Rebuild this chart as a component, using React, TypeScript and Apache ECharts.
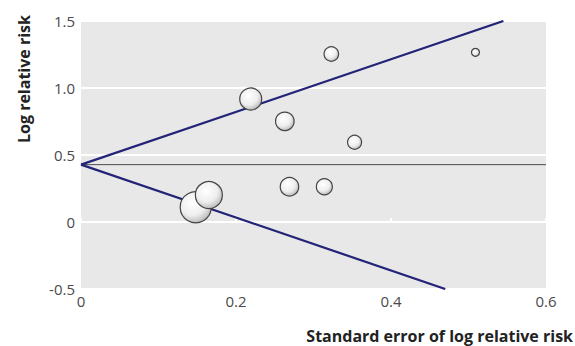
import React, { useEffect, useRef } from "react";
import * as echarts from "echarts";

// Study data: standard error, log relative risk, relative weight (bubble diameter)
const standardErrors = [0.148, 0.165, 0.219, 0.263, 0.323, 0.353, 0.509, 0.269, 0.314];
const logRelativeRisks = [0.11, 0.201, 0.918, 0.751, 1.254, 0.595, 1.266, 0.263, 0.263];
const studyWeights = [31, 27, 22, 18.5, 14.5, 14, 8, 18.5, 16];

// Pooled estimate and pseudo 95% confidence limits (funnel)
const pooledEstimate = 0.428;
const upperLimit = [[0, 0.428], [0.545, 1.5]];
const lowerLimit = [[0, 0.428], [0.47, -0.5]];
const pooledLine = [[0, pooledEstimate], [0.6, pooledEstimate]];

const xTicks = [0, 0.2, 0.4, 0.6];
const yTicks = [-0.5, 0, 0.5, 1.0, 1.5];

const FONT = "'Open Sans', 'Noto Sans', sans-serif";

export default function App() {
  const ref = useRef<HTMLDivElement>(null);
  useEffect(() => {
    if (!ref.current) return;
    const chart = echarts.init(ref.current, undefined, { renderer: "svg" });
    const points = standardErrors.map((se, i) => ({
      value: [se, logRelativeRisks[i]],
      symbolSize: studyWeights[i],
    }));
    const fmt = (v: number) => (v === 0 ? "0" : v.toFixed(1));
    chart.setOption({
      animation: false,
      backgroundColor: "#ffffff",
      textStyle: { fontFamily: FONT },
      grid: {
        left: 81,
        right: 29,
        top: 21,
        bottom: 57,
        show: true,
        backgroundColor: "#e8e8e8",
        borderWidth: 0,
      },
      xAxis: {
        type: "value",
        min: xTicks[0],
        max: xTicks[xTicks.length - 1],
        interval: 0.2,
        axisLine: { show: false },
        axisTick: { show: true, inside: true, length: 4, lineStyle: { color: "#ffffff", width: 2 } },
        splitLine: { show: false },
        axisLabel: {
          formatter: fmt,
          color: "#4a4a4a",
          fontSize: 15,
          fontFamily: FONT,
          margin: 4,
        },
      },
      yAxis: {
        type: "value",
        min: yTicks[0],
        max: yTicks[yTicks.length - 1],
        interval: 0.5,
        axisLine: { show: false },
        axisTick: { show: false },
        splitLine: { show: true, lineStyle: { color: "#ffffff", width: 2 } },
        axisLabel: {
          formatter: fmt,
          color: "#4a4a4a",
          fontSize: 15,
          fontFamily: FONT,
          margin: 6,
        },
      },
      graphic: [
        {
          type: "text",
          right: 2,
          top: 328,
          style: {
            text: "Standard error of log relative risk",
            font: "bold 16px " + FONT,
            fill: "#222222",
          },
        },
        {
          type: "text",
          x: 24,
          y: 79,
          rotation: Math.PI / 2,
          style: {
            text: "Log relative risk",
            font: "bold 16px " + FONT,
            fill: "#222222",
            align: "center",
            verticalAlign: "middle",
          },
        },
      ],
      series: [
        {
          type: "line",
          data: pooledLine,
          symbol: "none",
          lineStyle: { color: "#4a4a4a", width: 1 },
          z: 2,
        },
        {
          type: "line",
          data: upperLimit,
          symbol: "none",
          lineStyle: { color: "#232378", width: 2.2 },
          z: 3,
        },
        {
          type: "line",
          data: lowerLimit,
          symbol: "none",
          lineStyle: { color: "#232378", width: 2.2 },
          z: 3,
        },
        {
          type: "scatter",
          data: points,
          z: 5,
          itemStyle: {
            color: new echarts.graphic.RadialGradient(0.4, 0.35, 0.75, [
              { offset: 0, color: "#ffffff" },
              { offset: 0.55, color: "#eeeeee" },
              { offset: 1, color: "#aaaaaa" },
            ]),
            borderColor: "#444444",
            borderWidth: 1.2,
            opacity: 1,
          },
        },
      ],
    });
    return () => chart.dispose();
  }, []);
  return (
    <div
      ref={ref}
      style={{ position: "fixed", left: 0, top: 0, width: 575, height: 346 }}
    />
  );
}
